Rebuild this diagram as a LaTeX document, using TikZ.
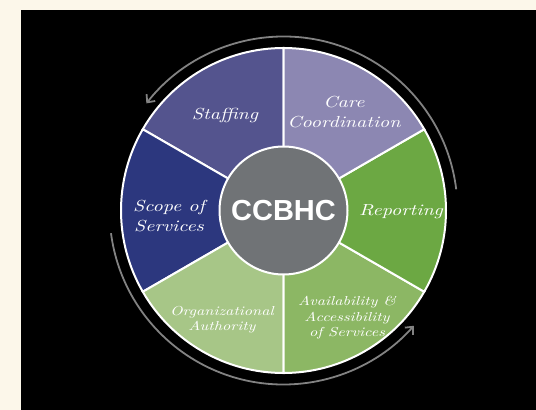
\documentclass[tikz,border=0pt]{standalone}
\usepackage{fontspec}
\setsansfont{Liberation Sans}
\newfontfamily\handfont[FakeStretch=1.25]{lmroman10-italic.otf}
\usetikzlibrary{arrows.meta}

\definecolor{cream}{RGB}{252,247,234}
\definecolor{staff}{RGB}{84,84,142}
\definecolor{care}{RGB}{140,135,178}
\definecolor{report}{RGB}{108,168,67}
\definecolor{avail}{RGB}{140,183,100}
\definecolor{org}{RGB}{167,198,135}
\definecolor{scope}{RGB}{44,55,126}
\definecolor{hub}{RGB}{112,115,118}
\definecolor{arcgray}{RGB}{130,130,130}

\begin{document}
\begin{tikzpicture}[x=1pt,y=1pt,
   segment/.style={draw=white,line width=2pt},
   seglabel/.style={text=white,align=center,font=\handfont\fontsize{16}{19.5}\selectfont},
   smalltext/.style={font=\handfont\fontsize{13}{15.5}\selectfont},
   cycle arrow/.style={draw=arcgray,line width=1.8pt,-{Straight Barb[length=6pt,width=11pt]}}]
   \useasboundingbox (0,0) rectangle (536,410);
   \fill[cream] (0,0) rectangle (536,410);
   \fill[black] (21,0) rectangle (536,400);
   \coordinate (c) at (283.5,199.5);
   \foreach \a/\col in {90/staff,150/scope,210/org,270/avail,330/report,30/care}
      \filldraw[segment,fill=\col] (c) -- ++(\a:162.5) arc[start angle=\a,end angle=\a+60,radius=162.5] -- cycle;
   \node[circle,fill=hub,draw=white,line width=2pt,minimum size=128pt,inner sep=0pt,text=white,
         font=\sffamily\bfseries\fontsize{29}{29}\selectfont] (ccbhc) at (c) {\raisebox{-3pt}{CCBHC}};
   \node[seglabel] (staffing) at (225,294) {Staffing};
   \node[seglabel] (coordination) at (344,298) {Care\\Coordination};
   \node[seglabel] (reporting) at (401,198) {Reporting};
   \node[seglabel,smalltext] (availability) at (347,92) {Availability \&\\Accessibility\\of Services};
   \node[seglabel,smalltext] (authority) at (222,90) {Organizational\\Authority};
   \node[seglabel] (services) at (169,194) {Scope of\\Services};
   \draw[cycle arrow] (c) ++(7:174) arc[start angle=7,end angle=142,radius=174];
   \draw[cycle arrow] (c) ++(187.5:174) arc[start angle=187.5,end angle=318.5,radius=174];
\end{tikzpicture}
\end{document}
